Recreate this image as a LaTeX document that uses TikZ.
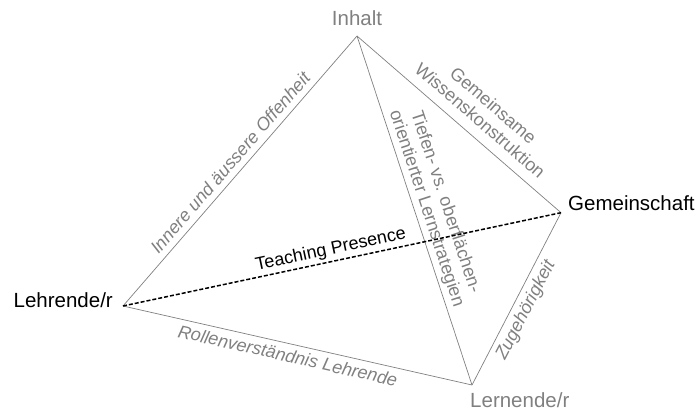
\documentclass[tikz,border=0pt]{standalone}
\usepackage{fontspec}
\setmainfont{Liberation Sans}
\definecolor{lgrey}{RGB}{128,128,128}
\begin{document}
\begin{tikzpicture}[x=1pt,y=1pt,
  edge/.style={draw=lgrey, line width=0.7pt},
  presence/.style={draw=black, line width=1.5pt, dash pattern=on 4pt off 2pt},
  vtx/.style={font=\fontsize{20.5}{24}\selectfont, inner sep=0pt},
  lbl/.style={font=\fontsize{18}{20}\selectfont, text=lgrey, sloped, align=center},
  lbli/.style={lbl, font=\fontsize{18}{20}\selectfont\itshape}]
\useasboundingbox (0,0) rectangle (700,410);
\coordinate (ih) at (357,374);
\coordinate (lh) at (123,104);
\coordinate (gm) at (561,197.3);
\coordinate (ln) at (472,25);
\node[vtx, anchor=base, text=lgrey] (inhalt) at ([yshift=10pt]ih) {Inhalt};
\node[vtx, anchor=base east] (lehrende) at ([xshift=-10pt,yshift=-1.3pt]lh) {Lehrende/r};
\node[vtx, anchor=base west] (gemeinschaft) at ([xshift=7pt,yshift=2pt]gm) {Gemeinschaft};
\node[vtx, anchor=base west, text=lgrey] (lernende) at ([xshift=-2pt,yshift=-22pt]ln) {Lernende/r};
\draw[edge] (lh) to node[lbli, above, inner sep=6pt]{Innere und äussere Offenheit} (ih);
\draw[edge] (lh) to node[lbli, below, inner sep=5pt, pos=0.48]{Rollenverständnis Lehrende} (ln);
\draw[edge] (ih) to node[lbl, above, inner sep=10pt, pos=0.55]{Gemeinsame\\Wissenskonstruktion} (gm);
\draw[edge] (ih) to node[lbl, above, inner sep=3pt, pos=0.505]{Tiefen- vs. oberflächen-\\orientierter Lernstrategien} (ln);
\draw[edge] (ln) to node[lbli, below, inner sep=5pt, pos=0.47]{Zugehörigkeit} (gm);
\draw[presence] (lh) to node[lbl, text=black, above, inner sep=2.5pt, pos=0.48]{Teaching Presence} (gm);
\end{tikzpicture}
\end{document}
